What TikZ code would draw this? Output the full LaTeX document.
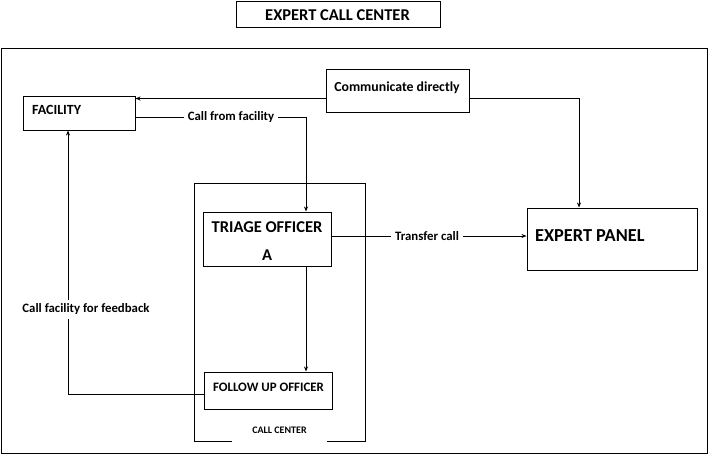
\documentclass[tikz,border=0pt]{standalone}
\usepackage{fontspec}
\setmainfont{Carlito}
\usetikzlibrary{arrows.meta}
\begin{document}
\begin{tikzpicture}[x=1pt,y=-1pt,
  box/.style={draw, line width=1pt, inner sep=0pt, rectangle},
  txt/.style={inner sep=0pt, font=\bfseries},
  lbl/.style={fill=white, inner sep=4pt, font=\bfseries\fontsize{12.8}{14}\selectfont},
  conn/.style={line width=0.8pt},
  arr/.style={conn, -{Stealth[length=5pt,width=4pt]}}]
\useasboundingbox (0,0) rectangle (709,455);
% frames
\node[box, minimum width=204pt, minimum height=26pt] (title) at (338,14) {};
\node[txt, anchor=base, font=\bfseries\fontsize{16.5}{18}\selectfont] (titletxt) at (337.5,20.3) {EXPERT CALL CENTER};
\node[box, minimum width=706pt, minimum height=405pt] (outer) at (354,250.5) {};
\draw[line width=1pt] (232,441) -- (194,441) -- (194,183) -- (365,183) -- (365,441) -- (327,441);
\node[txt, anchor=base, font=\bfseries\fontsize{10}{12}\selectfont] (cctxt) at (279.5,433.3) {CALL CENTER};
% boxes
\node[box, minimum width=112pt, minimum height=34pt] (fac) at (79,113) {};
\node[txt, anchor=base west, font=\bfseries\fontsize{14}{16}\selectfont] (factxt) at (32,114.3) {FACILITY};
\node[box, minimum width=143pt, minimum height=43pt] (comm) at (397.5,90.5) {};
\node[txt, anchor=base, font=\bfseries\fontsize{13.8}{16}\selectfont] (commtxt) at (397,91.7) {Communicate directly};
\node[box, minimum width=128pt, minimum height=54pt] (tri) at (267,239) {};
\node[txt, anchor=base, font=\bfseries\fontsize{16.5}{18}\selectfont] (tritxt) at (267,232.7) {TRIAGE OFFICER};
\node[txt, anchor=base, font=\bfseries\fontsize{16.5}{18}\selectfont] (tritxtb) at (267,260.7) {A};
\node[box, minimum width=128pt, minimum height=37pt] (fol) at (268,390.5) {};
\node[txt, anchor=base, font=\bfseries\fontsize{12.9}{14}\selectfont] (foltxt) at (268.5,391.7) {FOLLOW UP OFFICER};
\node[box, minimum width=170pt, minimum height=62pt] (exp) at (612,239) {};
\node[txt, anchor=base west, font=\bfseries\fontsize{18.3}{20}\selectfont] (exptxt) at (535,241.7) {EXPERT PANEL};
% bend points
\coordinate (k1) at (579,98.5);
\coordinate (k2) at (306,117);
\coordinate (k3) at (68,394);
% connectors
\draw[arr] ([yshift=-8pt]comm.west) -- ([yshift=14.5pt]fac.east);
\draw[arr] ([yshift=-8pt]comm.east) -- (k1) -- ([xshift=-33pt]exp.north);
\draw[arr] ([yshift=-4pt]fac.east) -- node[lbl, pos=0.56] {Call from facility} (k2) -- ([xshift=39pt]tri.north);
\draw[arr] ([yshift=3pt]tri.east) -- node[lbl, pos=0.49] {Transfer call} ([yshift=3pt]exp.west);
\draw[arr] ([xshift=39pt]tri.south) -- ([xshift=38pt]fol.north);
\draw[arr] ([yshift=-3.5pt]fol.west) -- (k3) -- ([xshift=-11pt]fac.south);
\node[lbl] (fbk) at (86,309) {Call facility for feedback};
\end{tikzpicture}
\end{document}
